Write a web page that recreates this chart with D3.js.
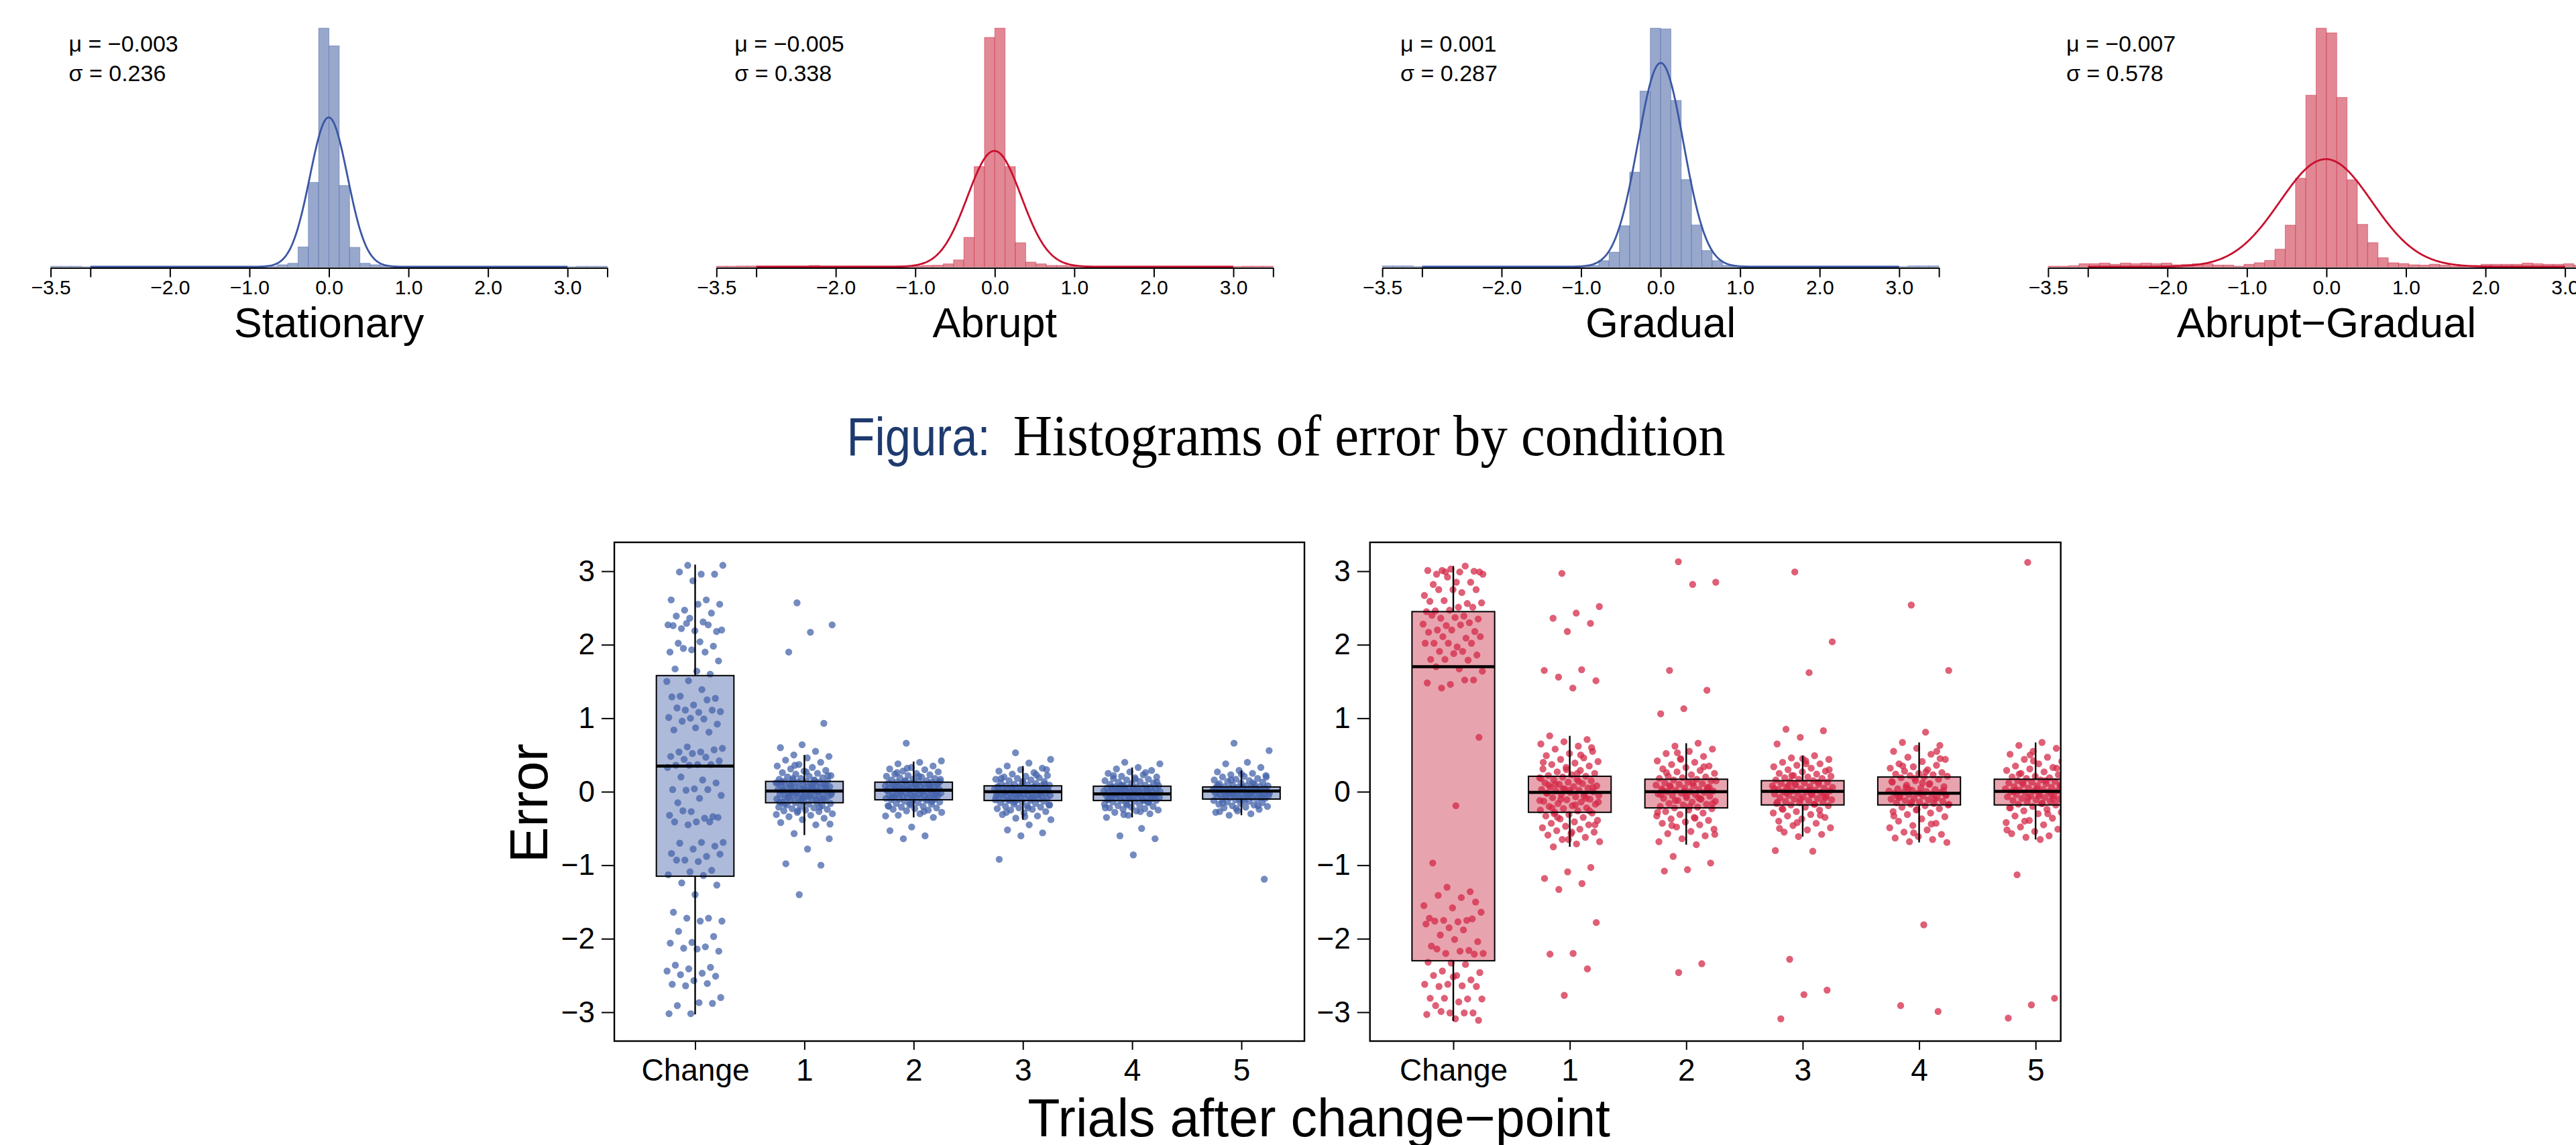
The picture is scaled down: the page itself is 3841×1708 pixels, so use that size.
<!DOCTYPE html>
<html>
<head>
<meta charset="utf-8">
<script src="https://d3js.org/d3.v7.min.js"></script>
<style>
  body { margin: 0; background: #fff; }
  svg { display: block; font-family: "Liberation Sans", Arial, sans-serif; }
</style>
</head>
<body>
<svg id="chart" width="3841" height="1708"></svg>
<script>
// ---- histograms (density per bin, 54 bins from -3.5 to 3.5) ----
var histNames = ["Stationary", "Abrupt", "Gradual", "Abrupt\u2212Gradual"];
var histMu = [-0.003, -0.005, 0.001, -0.007];
var histSigma = [0.236, 0.338, 0.287, 0.578];
var histTone = ["blue", "red", "blue", "red"];
var binLo = -3.5, binHi = 3.5, binCount = 54;

var histStationary = [0.006,0.006,0.006,0.002,0.005,0.005,0.005,0.005,0.005,0.005,0.005,0.005,0.005,0.005,0.005,0.005,0.005,0.005,0.005,0.005,0.005,0.005,
  0.023,0.04,0.225,0.955,2.70,2.50,0.92,0.22,0.04,0.023,0.01,
  0.005,0.005,0.005,0.005,0.005,0.005,0.005,0.005,0.005,0.005,0.005,0.005,0.005,0.005,0.005,0.005,0.005,0.002,0.006,0.006,0.006];
var histAbrupt = [0.006,0.006,0.008,0.008,0.008,0.008,0.008,0.008,0.008,0.014,0.008,0.008,0.008,0.008,0.008,0.008,0.008,0.008,0.008,0.008,
  0.014,0.016,0.03,0.07,0.30,1.02,2.335,2.43,1.02,0.245,0.048,0.03,0.014,0.014,
  0.007,0.007,0.007,0.007,0.007,0.007,0.007,0.007,0.007,0.007,0.007,0.007,0.007,0.007,0.007,0.007,0.004,0.006,0.006,0.006];
var histGradual = [0.006,0.006,0.006,0.002,0.005,0.005,0.005,0.005,0.005,0.005,0.005,0.005,0.005,0.005,0.005,0.005,0.005,0.005,0.005,0.005,
  0.009,0.042,0.10,0.28,0.645,1.198,1.627,1.622,1.134,0.595,0.285,0.111,0.042,0.01,
  0.005,0.005,0.005,0.005,0.005,0.005,0.005,0.005,0.005,0.005,0.005,0.005,0.005,0.005,0.005,0.005,0.002,0.006,0.006,0.006];
var histAbruptGradual = [0.004,0.004,0.007,0.02,0.02,0.024,0.016,0.024,0.02,0.024,0.02,0.024,0.013,0.016,0.02,0.02,0.011,0.011,0.004,0.016,
  0.026,0.041,0.113,0.267,0.568,1.10,1.53,1.50,1.086,0.558,0.272,0.155,0.058,0.026,
  0.021,0.013,0.011,0.017,0.011,0.004,0.004,0.009,0.016,0.016,0.016,0.016,0.024,0.02,0.016,0.016,0.02,0.01,0.01,0.01];

var histTicks = [-3.5, -3, -2, -1, 0, 1, 2, 3, 3.5];
var histTickLabels = ["\u22123.5", "", "\u22122.0", "\u22121.0", "0.0", "1.0", "2.0", "3.0", ""];

// ---- box plots ----
var boxCats = ["Change", "1", "2", "3", "4", "5"];
var boxTicks = [-3, -2, -1, 0, 1, 2, 3];

var leftQ1  = [-1.15, -0.15, -0.11, -0.12, -0.12, -0.10];
var leftMed = [0.35, 0.01, 0.02, 0.00, -0.03, 0.01];
var leftQ3  = [1.58, 0.14, 0.13, 0.08, 0.075, 0.065];
var leftLo  = [-3.03, -0.59, -0.35, -0.38, -0.35, -0.32];
var leftHi  = [3.09, 0.50, 0.41, 0.35, 0.33, 0.29];

var rightQ1  = [-2.30, -0.28, -0.22, -0.18, -0.18, -0.18];
var rightMed = [1.70, -0.01, 0.00, 0.005, -0.02, 0.005];
var rightQ3  = [2.45, 0.21, 0.17, 0.15, 0.20, 0.17];
var rightLo  = [-3.12, -0.75, -0.72, -0.61, -0.69, -0.65];
var rightHi  = [3.07, 0.76, 0.66, 0.49, 0.67, 0.67];

var leftChange = [3.08,3.08,2.96,2.99,2.96,2.87,2.61,2.61,2.47,2.55,2.55,2.39,2.43,2.36,2.27,2.31,2.22,2.18,2.19,2.26,2.27,2.29,2.20,2.04,2.02,1.98,1.93,1.90,1.90,1.95,1.78,1.64,1.67,1.60,1.51,1.50,1.39,1.30,1.27,1.18,1.29,1.25,1.11,1.09,1.08,1.14,1.11,1.00,1.01,0.99,0.96,0.92,0.87,0.84,0.81,0.61,0.59,0.54,0.54,0.57,0.52,0.48,0.47,0.44,0.42,0.37,0.36,0.37,0.36,0.33,0.16,0.20,0.12,0.04,0.03,0.03,0.02,-0.05,-0.09,-0.15,-0.34,-0.27,-0.32,-0.36,-0.26,-0.35,-0.41,-0.41,-0.41,-0.45,-0.69,-0.69,-0.70,-0.74,-0.78,-0.84,-0.88,-0.93,-0.85,-0.95,-0.93,-1.07,-1.09,-1.13,-1.14,-1.24,-1.27,-1.40,-1.64,-1.72,-1.72,-1.76,-1.76,-1.90,-1.97,-2.05,-2.06,-2.11,-2.13,-2.17,-2.14,-2.36,-2.39,-2.41,-2.44,-2.47,-2.49,-2.51,-2.57,-2.62,-2.61,-2.64,-2.80,-2.87,-2.91,-2.88,-3.02,-3.02];
var left1 = [2.57,2.27,2.17,1.90,0.93,0.64,0.60,0.55,0.50,0.48,0.46,0.43,0.40,0.37,0.35,0.33,0.31,0.29,0.28,0.26,0.25,0.24,0.22,0.21,0.20,0.19,0.18,0.17,0.16,0.16,0.15,0.14,0.14,0.13,0.13,0.12,0.11,0.11,0.10,0.09,0.09,0.08,0.07,0.07,0.06,0.05,0.05,0.04,0.03,0.03,0.02,0.02,0.01,0.01,0.00,0.00,-0.01,-0.02,-0.02,-0.03,-0.04,-0.04,-0.05,-0.06,-0.06,-0.07,-0.08,-0.09,-0.09,-0.10,-0.11,-0.12,-0.12,-0.13,-0.14,-0.15,-0.15,-0.16,-0.17,-0.18,-0.19,-0.20,-0.21,-0.22,-0.23,-0.24,-0.25,-0.26,-0.27,-0.28,-0.30,-0.32,-0.34,-0.36,-0.38,-0.42,-0.45,-0.57,-0.64,-0.78,-0.98,-1.00,-1.40,
  0.12,0.10,0.08,0.06,0.04,0.02,0.00,-0.02,-0.04,-0.06,-0.08,-0.10,-0.12,-0.14,0.15,0.18,0.22,0.27,-0.17,-0.21,-0.26,-0.31,0.05,-0.03,0.09,-0.07,0.13,-0.11,0.36,-0.44];
var left2 = [0.66,0.42,0.40,0.38,0.35,0.33,0.31,0.30,0.28,0.27,0.25,0.24,0.23,0.22,0.21,0.20,0.19,0.18,0.17,0.16,0.15,0.15,0.14,0.14,0.13,0.13,0.12,0.12,0.11,0.11,0.10,0.10,0.09,0.09,0.08,0.08,0.07,0.07,0.06,0.06,0.05,0.05,0.04,0.04,0.03,0.03,0.02,0.02,0.02,0.01,0.01,0.00,0.00,-0.01,-0.01,-0.02,-0.02,-0.03,-0.03,-0.04,-0.04,-0.05,-0.05,-0.06,-0.06,-0.07,-0.07,-0.08,-0.08,-0.09,-0.09,-0.10,-0.10,-0.11,-0.11,-0.12,-0.13,-0.14,-0.15,-0.16,-0.17,-0.18,-0.19,-0.20,-0.21,-0.22,-0.23,-0.24,-0.25,-0.26,-0.28,-0.30,-0.32,-0.35,-0.48,-0.53,-0.60,-0.64,
  0.12,0.10,0.08,0.06,0.04,0.02,0.00,-0.02,-0.04,-0.06,-0.08,-0.10,0.14,0.17,0.21,0.26,-0.13,-0.16,-0.20,-0.27,0.05,-0.03,0.09,-0.07,0.11,0.32,-0.33];
var left3 = [0.53,0.44,0.39,0.35,0.32,0.30,0.28,0.26,0.24,0.22,0.21,0.20,0.19,0.18,0.17,0.16,0.15,0.14,0.13,0.12,0.11,0.10,0.09,0.09,0.08,0.08,0.07,0.07,0.06,0.06,0.05,0.05,0.05,0.04,0.04,0.04,0.03,0.03,0.03,0.02,0.02,0.02,0.01,0.01,0.01,0.00,0.00,0.00,-0.01,-0.01,-0.02,-0.02,-0.03,-0.03,-0.04,-0.04,-0.05,-0.05,-0.06,-0.06,-0.07,-0.07,-0.08,-0.08,-0.09,-0.09,-0.10,-0.10,-0.11,-0.11,-0.12,-0.12,-0.13,-0.14,-0.15,-0.16,-0.17,-0.18,-0.19,-0.20,-0.21,-0.22,-0.23,-0.24,-0.25,-0.27,-0.29,-0.31,-0.33,-0.36,-0.38,-0.45,-0.52,-0.56,-0.60,-0.92,
  0.07,0.05,0.03,0.01,-0.01,-0.03,-0.05,-0.07,-0.09,-0.11,0.10,0.14,0.18,0.23,-0.14,-0.18,-0.22,-0.28,0.04,-0.02,0.06,-0.08,0.02,0.30,-0.34];
var left4 = [0.40,0.38,0.33,0.31,0.29,0.27,0.25,0.23,0.21,0.20,0.19,0.18,0.17,0.16,0.15,0.14,0.13,0.12,0.11,0.10,0.09,0.08,0.08,0.07,0.07,0.06,0.06,0.05,0.05,0.04,0.04,0.03,0.03,0.02,0.02,0.01,0.01,0.00,0.00,-0.01,-0.01,-0.02,-0.02,-0.02,-0.03,-0.03,-0.03,-0.04,-0.04,-0.05,-0.05,-0.06,-0.06,-0.07,-0.07,-0.08,-0.08,-0.09,-0.09,-0.10,-0.10,-0.11,-0.11,-0.12,-0.12,-0.13,-0.14,-0.15,-0.16,-0.17,-0.18,-0.19,-0.20,-0.21,-0.22,-0.23,-0.24,-0.25,-0.26,-0.28,-0.30,-0.32,-0.35,-0.50,-0.60,-0.64,-0.86,
  0.06,0.04,0.02,0.00,-0.02,-0.04,-0.06,-0.08,-0.10,-0.12,0.09,0.13,0.17,0.22,-0.14,-0.18,-0.22,-0.27,0.03,-0.05,0.01,-0.09,0.26,-0.31];
var left5 = [0.66,0.56,0.40,0.38,0.33,0.29,0.27,0.25,0.23,0.22,0.21,0.20,0.18,0.17,0.16,0.15,0.14,0.13,0.12,0.11,0.10,0.09,0.08,0.08,0.07,0.07,0.06,0.06,0.06,0.05,0.05,0.05,0.04,0.04,0.04,0.03,0.03,0.03,0.02,0.02,0.02,0.01,0.01,0.01,0.00,0.00,0.00,-0.01,-0.01,-0.01,-0.02,-0.02,-0.03,-0.03,-0.04,-0.04,-0.05,-0.05,-0.06,-0.06,-0.07,-0.07,-0.08,-0.08,-0.09,-0.09,-0.10,-0.10,-0.11,-0.12,-0.13,-0.14,-0.15,-0.16,-0.17,-0.18,-0.19,-0.20,-0.21,-0.22,-0.24,-0.26,-0.28,-0.30,-0.32,-1.19,
  0.06,0.04,0.02,0.00,-0.02,-0.04,-0.06,-0.08,-0.10,0.09,0.12,0.16,0.20,-0.12,-0.15,-0.19,-0.23,0.03,-0.05,0.01,-0.07,0.24,-0.27,0.05,-0.03];

var rightChange = [2.99,2.96,2.99,2.96,3.00,3.03,3.01,3.07,3.01,2.99,2.85,2.82,2.85,2.92,2.67,2.71,2.75,2.75,2.75,2.59,2.56,2.60,2.57,2.51,2.46,2.51,2.47,2.45,2.39,2.36,2.35,2.37,2.40,2.30,2.26,2.28,2.27,2.20,2.18,2.20,2.17,2.09,2.11,2.11,1.97,2.02,2.02,2.02,2.02,1.91,1.91,1.86,1.88,1.80,1.79,1.80,1.64,1.67,1.70,1.52,1.46,1.48,1.52,1.41,
  0.74,-0.19,-0.97,
  -1.36,-1.30,-1.55,-1.44,-1.41,-1.50,-1.58,-1.72,-1.75,-1.75,-1.64,-1.77,-1.76,-1.73,-1.85,-1.80,-1.88,-1.95,-2.04,-2.01,-2.10,-2.16,-2.20,-2.20,-2.17,-2.14,-2.21,-2.33,-2.32,-2.35,-2.44,-2.46,-2.50,-2.50,-2.56,-2.62,-2.62,-2.64,-2.65,-2.65,-2.52,-2.81,-2.82,-2.81,-2.82,-2.86,-2.91,-3.01,-3.01,-3.03,-3.01,-2.99,-3.11,-3.09];
var right1 = [2.97,2.52,2.43,2.36,2.29,2.18,1.65,1.66,1.56,1.51,1.41,
  0.76,0.71,0.68,0.65,0.62,0.58,0.55,0.52,0.49,0.46,0.44,0.41,0.39,0.37,0.35,0.33,0.31,0.29,0.27,0.25,0.23,0.22,0.21,0.20,0.19,0.17,0.16,0.15,0.13,0.12,0.11,0.10,0.08,0.07,0.06,0.05,0.04,0.03,0.02,0.01,0.00,-0.01,-0.02,-0.03,-0.04,-0.05,-0.07,-0.08,-0.10,-0.11,-0.13,-0.14,-0.16,-0.17,-0.19,-0.20,-0.22,-0.23,-0.25,-0.26,-0.28,-0.29,-0.31,-0.33,-0.35,-0.37,-0.39,-0.41,-0.43,-0.45,-0.47,-0.49,-0.51,-0.53,-0.55,-0.57,-0.59,-0.62,-0.65,-0.68,-0.71,-0.75,
  -1.03,-1.09,-1.18,-1.25,-1.33,-1.78,-2.20,-2.21,-2.41,-2.77,
  0.18,0.14,0.10,0.06,0.02,-0.02,-0.06,-0.10,-0.14,-0.18,-0.22,-0.26,0.30,0.40,0.50,-0.35,-0.45,-0.55,0.09,-0.09,0.04,-0.12,0.25,-0.30,0.60,-0.65];
var right2 = [3.13,2.85,2.82,1.65,1.38,1.13,1.06,
  0.66,0.62,0.58,0.55,0.52,0.48,0.45,0.42,0.40,0.37,0.35,0.33,0.31,0.29,0.27,0.25,0.23,0.21,0.20,0.19,0.18,0.17,0.16,0.15,0.13,0.12,0.11,0.10,0.09,0.08,0.07,0.06,0.05,0.04,0.03,0.02,0.01,0.00,0.00,-0.01,-0.02,-0.03,-0.04,-0.05,-0.06,-0.08,-0.09,-0.10,-0.12,-0.13,-0.14,-0.16,-0.17,-0.18,-0.20,-0.21,-0.22,-0.23,-0.25,-0.27,-0.29,-0.31,-0.33,-0.35,-0.37,-0.39,-0.41,-0.43,-0.45,-0.48,-0.51,-0.54,-0.57,-0.60,-0.64,-0.68,-0.72,
  -0.88,-0.97,-1.06,-1.08,-2.34,-2.46,
  0.15,0.12,0.08,0.04,0.00,-0.04,-0.08,-0.12,-0.16,-0.20,0.26,0.34,0.44,-0.28,-0.36,-0.46,0.06,-0.06,0.02,-0.10,0.53,-0.58];
var right3 = [2.99,2.04,1.62,0.85,0.83,0.74,0.65,
  0.49,0.46,0.44,0.42,0.40,0.38,0.36,0.34,0.32,0.30,0.28,0.27,0.25,0.24,0.22,0.21,0.20,0.19,0.18,0.17,0.16,0.15,0.14,0.13,0.12,0.11,0.10,0.09,0.08,0.07,0.06,0.05,0.04,0.03,0.02,0.01,0.01,0.00,0.00,-0.01,-0.02,-0.03,-0.04,-0.05,-0.06,-0.07,-0.08,-0.09,-0.10,-0.11,-0.12,-0.13,-0.14,-0.15,-0.16,-0.17,-0.18,-0.19,-0.21,-0.23,-0.25,-0.27,-0.29,-0.31,-0.33,-0.35,-0.37,-0.40,-0.43,-0.46,-0.49,-0.52,-0.55,-0.58,-0.61,
  -0.80,-0.81,-2.28,-2.70,-2.76,-3.09,
  0.13,0.10,0.06,0.02,-0.02,-0.06,-0.10,-0.14,-0.17,0.22,0.30,0.38,-0.24,-0.32,-0.42,0.04,-0.04,0.08,-0.08,0.45,-0.50];
var right4 = [2.54,1.65,0.81,
  0.67,0.63,0.59,0.55,0.51,0.47,0.44,0.41,0.38,0.36,0.34,0.32,0.30,0.28,0.26,0.25,0.24,0.23,0.22,0.21,0.20,0.19,0.17,0.15,0.13,0.11,0.09,0.07,0.05,0.04,0.03,0.02,0.01,0.00,-0.01,-0.01,-0.02,-0.02,-0.03,-0.04,-0.05,-0.06,-0.07,-0.08,-0.09,-0.10,-0.11,-0.12,-0.13,-0.14,-0.15,-0.16,-0.17,-0.18,-0.19,-0.21,-0.23,-0.25,-0.27,-0.29,-0.31,-0.34,-0.37,-0.40,-0.43,-0.46,-0.49,-0.52,-0.55,-0.58,-0.61,-0.63,-0.65,-0.68,-0.69,
  -1.81,-2.91,-2.99,
  0.18,0.14,0.10,0.06,0.02,-0.02,-0.06,-0.10,-0.14,-0.17,0.27,0.35,0.45,-0.24,-0.33,-0.44,0.04,-0.04,0.12,-0.08,0.55,-0.56];
var right5 = [3.12,1.79,
  0.67,0.63,0.59,0.55,0.51,0.47,0.44,0.41,0.38,0.35,0.33,0.31,0.29,0.27,0.25,0.23,0.21,0.20,0.19,0.18,0.17,0.16,0.15,0.14,0.13,0.12,0.11,0.10,0.09,0.08,0.07,0.06,0.05,0.04,0.03,0.02,0.01,0.01,0.00,0.00,-0.01,-0.02,-0.03,-0.04,-0.05,-0.06,-0.07,-0.08,-0.09,-0.10,-0.11,-0.12,-0.13,-0.14,-0.15,-0.16,-0.17,-0.18,-0.20,-0.22,-0.24,-0.26,-0.28,-0.30,-0.33,-0.36,-0.39,-0.42,-0.45,-0.48,-0.51,-0.54,-0.57,-0.60,-0.62,-0.64,-0.65,
  -1.13,-2.81,-2.90,-3.08,
  0.15,0.12,0.08,0.04,0.00,-0.04,-0.08,-0.12,-0.16,0.24,0.32,0.42,-0.22,-0.30,-0.40,0.06,-0.06,0.02,-0.10,0.50,-0.52];

// ---- drawing ----
var svg = d3.select("#chart");
svg.append("rect").attr("width", 3841).attr("height", 1708).attr("fill", "#fff");

var palette = {
  blue: { bar: "#97a8cc", line: "#3b57a4", box: "#aebad9", dot: "#4564ab" },
  red:  { bar: "#e18894", line: "#c8102e", box: "#e8a4ae", dot: "#d42a48" }
};

var histData = [histStationary, histAbrupt, histGradual, histAbruptGradual];
var fmt3 = d3.format(".3f");

histData.forEach(function(bins, p) {
  var left = 75.5 + p * 992.8;
  var col = palette[histTone[p]];
  var x = d3.scaleLinear().domain([binLo, binHi]).range([left, left + 830]);
  var y = d3.scaleLinear().domain([0, d3.max(bins)]).range([398, 42]);
  var w = (binHi - binLo) / binCount;
  var g = svg.append("g");

  g.selectAll("rect").data(bins).enter().append("rect")
    .attr("x", function(d, i) { return x(binLo + i * w); })
    .attr("width", x(binLo + w) - x(binLo))
    .attr("y", function(d) { return y(d); })
    .attr("height", function(d) { return y(0) - y(d); })
    .attr("fill", col.bar)
    .attr("stroke", col.line)
    .attr("stroke-width", 1)
    .attr("stroke-opacity", 0.45);

  // normal density with the printed mean and sd
  var mu = histMu[p], sd = histSigma[p];
  var xs = d3.range(-3, 3.0001, 0.01);
  var line = d3.line()
    .x(function(v) { return x(v); })
    .y(function(v) { return y(Math.exp(-0.5 * Math.pow((v - mu) / sd, 2)) / (sd * Math.sqrt(2 * Math.PI))); });
  g.append("path").datum(xs).attr("d", line)
    .attr("fill", "none").attr("stroke", col.line).attr("stroke-width", 2.8);

  var ax = g.append("g").attr("transform", "translate(0,399.5)")
    .call(d3.axisBottom(x).tickValues(histTicks)
      .tickFormat(function(d, i) { return histTickLabels[i]; })
      .tickSize(14).tickSizeOuter(0).tickPadding(4));
  ax.select(".domain").attr("stroke", "#000").attr("stroke-width", 2);
  ax.selectAll(".tick line").attr("stroke", "#000").attr("stroke-width", 2);
  ax.selectAll(".tick text").attr("font-size", 30).attr("fill", "#000")
    .attr("font-family", "Liberation Sans, Arial, sans-serif");

  g.append("text").attr("x", x(0)).attr("y", 503).attr("text-anchor", "middle")
    .attr("font-size", 63).text(histNames[p]);

  g.append("text").attr("x", left + 27).attr("y", 77).attr("font-size", 34)
    .text("\u03bc = " + fmt3(mu));
  g.append("text").attr("x", left + 27).attr("y", 121).attr("font-size", 34)
    .text("\u03c3 = " + fmt3(sd));
});

// caption
svg.append("text").attr("x", 1262.5).attr("y", 679)
  .attr("font-family", "Liberation Sans, Arial, sans-serif")
  .attr("font-size", 80).attr("fill", "#1e3a6e")
  .attr("textLength", 214).attr("lengthAdjust", "spacingAndGlyphs")
  .text("Figura:");
svg.append("text").attr("x", 1510.7).attr("y", 679)
  .attr("font-family", "Liberation Serif, Times New Roman, serif")
  .attr("font-size", 86).attr("fill", "#000")
  .attr("textLength", 1062).attr("lengthAdjust", "spacingAndGlyphs")
  .text("Histograms of error by condition");

// box plot panels
var boxPanels = [
  { frame: [916, 1945], pos: [1036.5, 1851], tone: "blue",
    q1: leftQ1, med: leftMed, q3: leftQ3, lo: leftLo, hi: leftHi,
    pts: [leftChange, left1, left2, left3, left4, left5] },
  { frame: [2042.7, 3072.7], pos: [2167, 3035.2], tone: "red",
    q1: rightQ1, med: rightMed, q3: rightQ3, lo: rightLo, hi: rightHi,
    pts: [rightChange, right1, right2, right3, right4, right5] }
];

var yBox = d3.scaleLinear().domain([-Math.PI * 1.08, Math.PI * 1.08]).range([1553, 809]);

function jitter(i) { return ((i * 0.618034 + 0.37) % 1) * 2 - 1; }

boxPanels.forEach(function(pn, k) {
  var col = palette[pn.tone];
  var x = d3.scaleLinear().domain([0, 5]).range(pn.pos);
  var unit = x(1) - x(0);
  var bw = 0.71 * unit;
  var g = svg.append("g");
  var clipId = "clip" + k;
  g.append("clipPath").attr("id", clipId).append("rect")
    .attr("x", pn.frame[0]).attr("y", 809)
    .attr("width", pn.frame[1] - pn.frame[0]).attr("height", 1553 - 809);
  var inner = g.append("g").attr("clip-path", "url(#" + clipId + ")");

  var idx = d3.range(boxCats.length);
  inner.selectAll("rect.box").data(idx).enter().append("rect")
    .attr("class", "box")
    .attr("x", function(i) { return x(i) - bw / 2; })
    .attr("width", bw)
    .attr("y", function(i) { return yBox(pn.q3[i]); })
    .attr("height", function(i) { return yBox(pn.q1[i]) - yBox(pn.q3[i]); })
    .attr("fill", col.box);

  pn.pts.forEach(function(vals, i) {
    inner.append("g").selectAll("circle").data(vals).enter().append("circle")
      .attr("cx", function(d, j) { return x(i + 0.26 * jitter(j)); })
      .attr("cy", function(d) { return yBox(d); })
      .attr("r", 5.2)
      .attr("fill", col.dot)
      .attr("fill-opacity", 0.75);
  });

  inner.selectAll("rect.outline").data(idx).enter().append("rect")
    .attr("x", function(i) { return x(i) - bw / 2; })
    .attr("width", bw)
    .attr("y", function(i) { return yBox(pn.q3[i]); })
    .attr("height", function(i) { return yBox(pn.q1[i]) - yBox(pn.q3[i]); })
    .attr("fill", "none").attr("stroke", "#000").attr("stroke-width", 2);

  inner.selectAll("line.wup").data(idx).enter().append("line")
    .attr("x1", function(i) { return x(i); }).attr("x2", function(i) { return x(i); })
    .attr("y1", function(i) { return yBox(pn.q3[i]); })
    .attr("y2", function(i) { return yBox(pn.hi[i]); })
    .attr("stroke", "#000").attr("stroke-width", 2.4);
  inner.selectAll("line.wdn").data(idx).enter().append("line")
    .attr("x1", function(i) { return x(i); }).attr("x2", function(i) { return x(i); })
    .attr("y1", function(i) { return yBox(pn.q1[i]); })
    .attr("y2", function(i) { return yBox(pn.lo[i]); })
    .attr("stroke", "#000").attr("stroke-width", 2.4);
  inner.selectAll("line.med").data(idx).enter().append("line")
    .attr("x1", function(i) { return x(i) - bw / 2; })
    .attr("x2", function(i) { return x(i) + bw / 2; })
    .attr("y1", function(i) { return yBox(pn.med[i]); })
    .attr("y2", function(i) { return yBox(pn.med[i]); })
    .attr("stroke", "#000").attr("stroke-width", 4.5);

  g.append("rect").attr("x", pn.frame[0]).attr("y", 809)
    .attr("width", pn.frame[1] - pn.frame[0]).attr("height", 1553 - 809)
    .attr("fill", "none").attr("stroke", "#000").attr("stroke-width", 2.4);

  var ay = g.append("g").attr("transform", "translate(" + pn.frame[0] + ",0)")
    .call(d3.axisLeft(yBox).tickValues(boxTicks).tickFormat(d3.format("d"))
      .tickSize(19).tickPadding(10));
  ay.select(".domain").remove();
  ay.selectAll(".tick line").attr("stroke", "#000").attr("stroke-width", 2);
  ay.selectAll(".tick text").attr("font-size", 44).attr("fill", "#000")
    .attr("font-family", "Liberation Sans, Arial, sans-serif");

  var axx = g.append("g").attr("transform", "translate(0,1553)")
    .call(d3.axisBottom(x).tickValues(idx)
      .tickFormat(function(d) { return boxCats[d]; })
      .tickSize(13).tickPadding(13));
  axx.select(".domain").remove();
  axx.selectAll(".tick line").attr("stroke", "#000").attr("stroke-width", 2);
  axx.selectAll(".tick text").attr("font-size", 46).attr("fill", "#000")
    .attr("font-family", "Liberation Sans, Arial, sans-serif");
});

svg.append("text").attr("transform", "translate(816,1198) rotate(-90)")
  .attr("text-anchor", "middle").attr("font-size", 80).text("Error");
svg.append("text").attr("x", 1966.7).attr("y", 1695)
  .attr("text-anchor", "middle").attr("font-size", 79)
  .text("Trials after change\u2212point");
</script>
</body>
</html>
